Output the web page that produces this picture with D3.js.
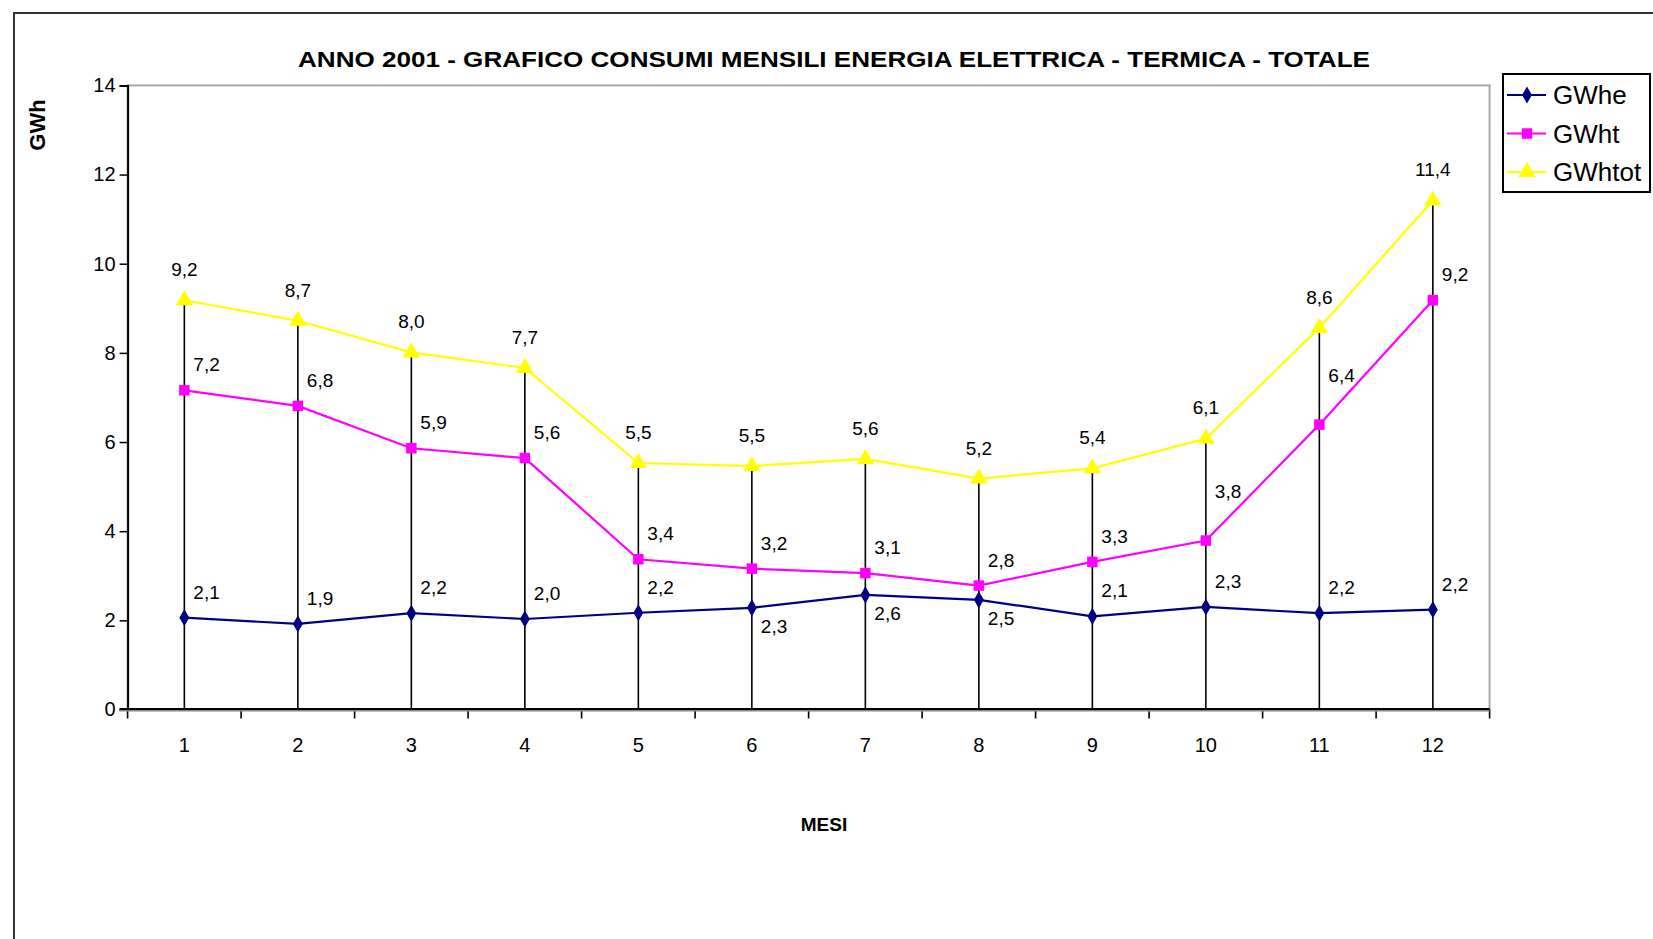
<!DOCTYPE html>
<html>
<head>
<meta charset="utf-8">
<script src="https://cdn.jsdelivr.net/npm/d3@7"></script>
<style>
  html, body { margin: 0; padding: 0; background: #ffffff; }
  svg { display: block; }
  text { font-family: "Liberation Sans", Arial, sans-serif; fill: #000; }
</style>
</head>
<body>
<svg id="chart" width="1653" height="939"></svg>
<script>
// ---- data ----
const months = [1, 2, 3, 4, 5, 6, 7, 8, 9, 10, 11, 12];
const gwhe   = [2.06, 1.92, 2.16, 2.03, 2.17, 2.28, 2.57, 2.46, 2.09, 2.30, 2.16, 2.24];
const gwht   = [7.16, 6.81, 5.86, 5.64, 3.37, 3.16, 3.06, 2.78, 3.31, 3.79, 6.39, 9.18];
const gwhtot = [9.18, 8.72, 8.01, 7.66, 5.53, 5.46, 5.62, 5.18, 5.41, 6.08, 8.56, 11.42];
const yTicks = [0, 2, 4, 6, 8, 10, 12, 14];
const seriesNames = ["GWhe", "GWht", "GWhtot"];
const heLabelBelow = [6, 7, 8];   // months whose GWhe label sits under the point
const htLabelRaised = [10, 11];   // months whose GWht label is lifted clear of the rising line
const title = "ANNO 2001 - GRAFICO CONSUMI MENSILI ENERGIA ELETTRICA - TERMICA - TOTALE";
const yTitle = "GWh";
const xTitle = "MESI";

// ---- layout ----
const svg = d3.select("#chart");
const plot = { left: 127.6, top: 85.4, right: 1489.6, bottom: 709.5 };
const fmt = v => v.toFixed(1).replace(".", ",");

const x = d3.scaleBand().domain(months).range([plot.left, plot.right]);
const y = d3.scaleLinear().domain([0, 14]).range([plot.bottom, plot.top]);
const cx = m => x(m) + x.bandwidth() / 2;

// outer chart border
svg.append("rect")
  .attr("x", 14).attr("y", 13).attr("width", 1700).attr("height", 1000)
  .attr("fill", "#fff").attr("stroke", "#333").attr("stroke-width", 2);

// plot area border (grey)
svg.append("rect")
  .attr("x", plot.left).attr("y", plot.top)
  .attr("width", plot.right - plot.left).attr("height", plot.bottom - plot.top)
  .attr("fill", "#fff").attr("stroke", "#a8a8a8").attr("stroke-width", 2);

// title
svg.append("text")
  .attr("x", 834).attr("y", 67)
  .attr("text-anchor", "middle")
  .attr("font-size", 22).attr("font-weight", "bold")
  .attr("textLength", 1072).attr("lengthAdjust", "spacingAndGlyphs")
  .text(title);

// y axis
const yAxis = svg.append("g")
  .attr("transform", `translate(${plot.left},0)`)
  .call(d3.axisLeft(y).tickValues(yTicks).tickSize(8).tickPadding(4).tickFormat(d3.format("d")));
yAxis.select(".domain").attr("stroke", "#000").attr("stroke-width", 2);
yAxis.selectAll(".tick line").attr("stroke", "#000").attr("stroke-width", 1.5);
yAxis.selectAll(".tick text")
  .attr("font-size", 20).attr("font-family", "Liberation Sans, Arial, sans-serif").attr("fill", "#000");

// y title
svg.append("text")
  .attr("transform", "translate(45,125) rotate(-90)")
  .attr("text-anchor", "middle")
  .attr("font-size", 22).attr("font-weight", "bold")
  .text(yTitle);

// drop lines
svg.append("g").selectAll("line")
  .data(months)
  .join("line")
  .attr("x1", m => cx(m)).attr("x2", m => cx(m))
  .attr("y1", (m, i) => y(Math.max(gwhe[i], gwht[i], gwhtot[i])))
  .attr("y2", y(0))
  .attr("stroke", "#000").attr("stroke-width", 1.6);

// x axis with ticks on category boundaries
const boundaries = months.map(m => x(m)).concat([plot.right]);
const xg = svg.append("g");
xg.selectAll("line.tk").data(boundaries).join("line")
  .attr("class", "tk")
  .attr("x1", d => d).attr("x2", d => d)
  .attr("y1", plot.bottom).attr("y2", plot.bottom + 9)
  .attr("stroke", "#000").attr("stroke-width", 1.6);
xg.append("line")
  .attr("x1", plot.left - 8).attr("x2", plot.right)
  .attr("y1", plot.bottom + 1).attr("y2", plot.bottom + 1)
  .attr("stroke", "#888").attr("stroke-width", 2);
xg.append("line")
  .attr("x1", plot.left - 8).attr("x2", plot.right)
  .attr("y1", plot.bottom - 0.5).attr("y2", plot.bottom - 0.5)
  .attr("stroke", "#000").attr("stroke-width", 2);
xg.selectAll("text").data(months).join("text")
  .attr("x", m => cx(m)).attr("y", 752)
  .attr("text-anchor", "middle").attr("font-size", 20)
  .text(m => m);

// x title
svg.append("text")
  .attr("x", 824).attr("y", 831)
  .attr("text-anchor", "middle").attr("font-size", 19).attr("font-weight", "bold")
  .text(xTitle);

// series
const series = [
  { name: seriesNames[0], values: gwhe, color: "#000080", symbol: d3.symbolDiamond, size: 85 },
  { name: seriesNames[1], values: gwht, color: "#ff00ff", symbol: d3.symbolSquare, size: 110 },
  { name: seriesNames[2], values: gwhtot, color: "#ffff00", symbol: d3.symbolTriangle, size: 130 }
];

const line = d3.line().x(d => cx(d.m)).y(d => y(d.v));
series.forEach(s => {
  const pts = months.map((m, i) => ({ m, v: s.values[i] }));
  svg.append("path").datum(pts)
    .attr("d", line).attr("fill", "none")
    .attr("stroke", s.color).attr("stroke-width", 2.2);
  svg.append("g").selectAll("path").data(pts).join("path")
    .attr("transform", d => `translate(${cx(d.m)},${y(d.v)})`)
    .attr("d", d3.symbol().type(s.symbol).size(s.size))
    .attr("fill", s.color);
});

// data labels
const lbl = svg.append("g").attr("font-size", 19);
// GWhtot: centered above
lbl.selectAll("text.tot").data(months).join("text").attr("class", "tot")
  .attr("x", m => cx(m)).attr("y", (m, i) => y(gwhtot[i]) - 24)
  .attr("text-anchor", "middle").text((m, i) => fmt(gwhtot[i]));
// GWht: upper right
lbl.selectAll("text.ht").data(months).join("text").attr("class", "ht")
  .attr("x", m => cx(m) + 9)
  .attr("y", (m, i) => y(gwht[i]) - (htLabelRaised.includes(m) ? 43 : 19))
  .attr("text-anchor", "start").text((m, i) => fmt(gwht[i]));
// GWhe: upper right, or lower right
lbl.selectAll("text.he").data(months).join("text").attr("class", "he")
  .attr("x", m => cx(m) + 9)
  .attr("y", (m, i) => heLabelBelow.includes(m) ? y(gwhe[i]) + 25 : y(gwhe[i]) - 19)
  .attr("text-anchor", "start").text((m, i) => fmt(gwhe[i]));

// legend
const lg = svg.append("g");
lg.append("rect")
  .attr("x", 1503).attr("y", 74).attr("width", 147).attr("height", 118)
  .attr("fill", "#fff").attr("stroke", "#000").attr("stroke-width", 2);
series.forEach((s, i) => {
  const ly = 95 + i * 38.5;
  lg.append("line").attr("x1", 1507).attr("x2", 1546).attr("y1", ly).attr("y2", ly)
    .attr("stroke", s.color).attr("stroke-width", 2.2);
  lg.append("path").attr("transform", `translate(1527,${ly})`)
    .attr("d", d3.symbol().type(s.symbol).size(s.size)).attr("fill", s.color);
  lg.append("text").attr("x", 1553).attr("y", ly + 9)
    .attr("font-size", 26).text(s.name);
});
</script>
</body>
</html>
